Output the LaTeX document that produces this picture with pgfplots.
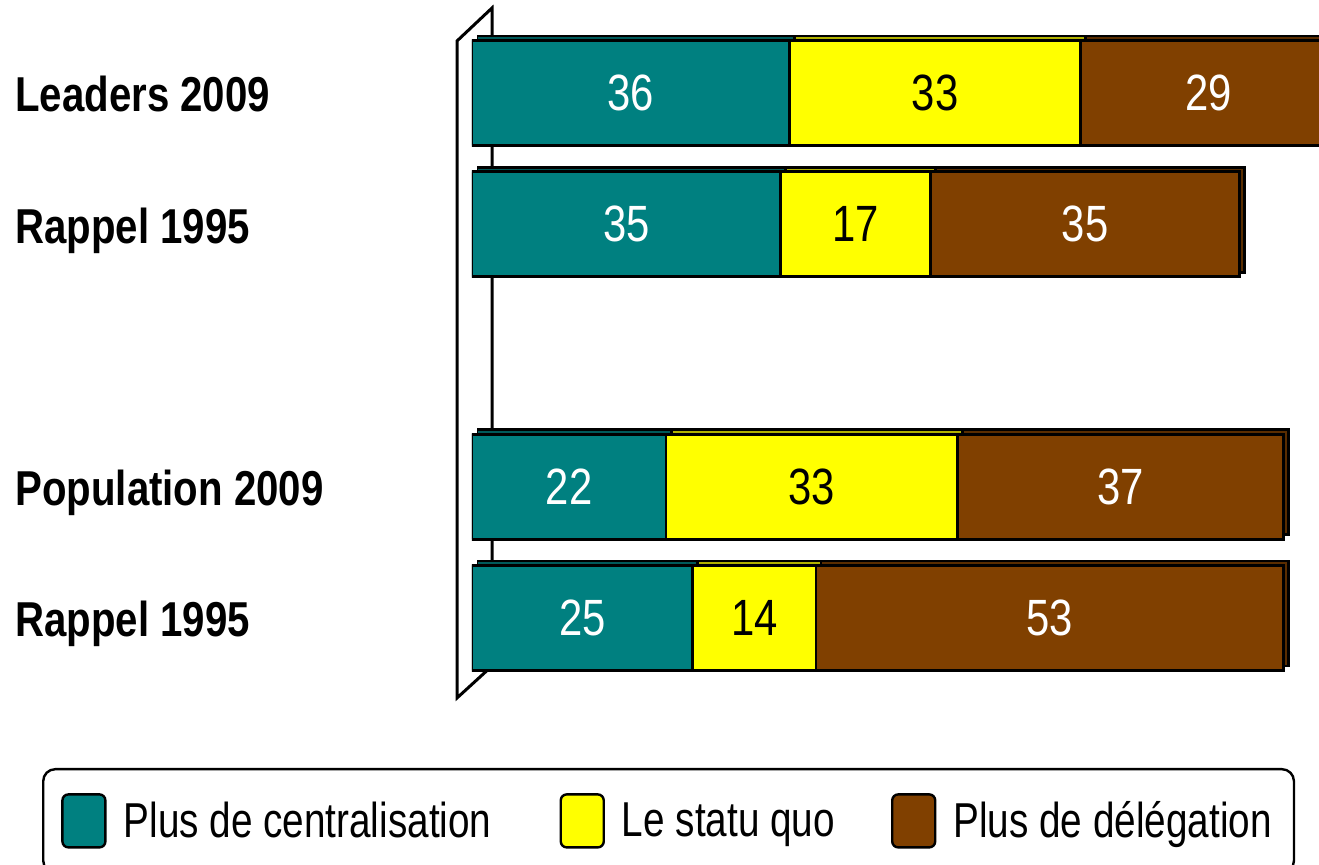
\documentclass[border=0pt]{standalone}
\usepackage{fontspec}
\setmainfont[FakeStretch=0.82]{Liberation Sans}
\newfontfamily\legfont[FakeStretch=0.79]{Liberation Sans}
\usepackage{pgfplots}
\pgfplotsset{compat=1.18}
\usepackage{pgfplotstable}
\definecolor{cTeal}{RGB}{0,128,128}
\definecolor{cYel}{RGB}{255,255,0}
\definecolor{cBrown}{RGB}{128,64,0}

\pgfplotstableread{
pos cent statu deleg
4 36 33 29
3 35 17 35
1 22 33 37
0 25 14 53
}\datatable

\pgfplotsset{barax/.style={
  xbar stacked, scale only axis, width=436.735pt, height=328.125pt,
  xmin=0, xmax=99, ymin=-0.5, ymax=4.5, bar width=0.8,
  anchor=south west}}

\begin{document}
\begin{tikzpicture}
\useasboundingbox (0,0) rectangle (659.5pt,-432.5pt);
\begin{scope}[x=0.5pt,y=-0.5pt,line width=1.5pt]
\draw (457,41) -- (492,8) -- (492,666) -- (457,698) -- cycle;
\end{scope}
% depth faces
\begin{axis}[barax, at={(238.5pt,-339.6pt)}, hide axis]
\addplot[fill=cTeal!70!black, draw=black, line width=1.4pt] table[x=cent,y=pos]{\datatable};
\addplot[fill=cYel!70!black, draw=black, line width=1.4pt] table[x=statu,y=pos]{\datatable};
\addplot[fill=cBrown!70!black, draw=black, line width=1.4pt] table[x=deleg,y=pos]{\datatable};
\end{axis}
% front faces
\begin{axis}[barax, at={(236pt,-341.8pt)},
  axis line style={draw=none}, tick style={draw=none}, major tick length=0pt,
  xtick=\empty, ytick={0,1,3,4},
  yticklabels={Rappel 1995,Population 2009,Rappel 1995,Leaders 2009},
  yticklabel style={anchor=base west, inner sep=0pt, xshift=-228.5pt, yshift=-9.5pt,
    font=\bfseries\fontsize{24.5}{26}\selectfont},
  point meta=explicit symbolic,
  nodes near coords,
  every node near coord/.append style={anchor=center, inner sep=0pt, text=white,
    font=\fontsize{25.5}{26}\selectfont},
  legend style={at={(-0.4923,-0.1286)}, anchor=north west, draw=black, line width=1.2pt,
    rounded corners=6pt, legend columns=3, font=\legfont\fontsize{24.5}{26}\selectfont,
    inner xsep=9pt, inner ysep=12pt, nodes={inner sep=0pt},
    /tikz/every odd column/.append style={column sep=8.5pt},
    /tikz/column 2/.append style={column sep=34pt},
    /tikz/column 4/.append style={column sep=28pt}},
  legend cell align=left,
  legend image code/.code={\draw[#1, line width=1.2pt, rounded corners=3pt] (0pt,-13.25pt) rectangle (21.5pt,13.25pt);}
]
\addplot[fill=cTeal, draw=black, line width=1.4pt] table[x=cent,y=pos,meta=cent]{\datatable};
\addlegendentry{Plus de centralisation}
\addplot[fill=cYel, draw=black, line width=1.4pt, nodes near coords style={text=black}] table[x=statu,y=pos,meta=statu]{\datatable};
\addlegendentry{Le statu quo}
\addplot[fill=cBrown, draw=black, line width=1.4pt] table[x=deleg,y=pos,meta=deleg]{\datatable};
\addlegendentry{Plus de délégation\hspace*{2pt}}
\end{axis}
\end{tikzpicture}
\end{document}
